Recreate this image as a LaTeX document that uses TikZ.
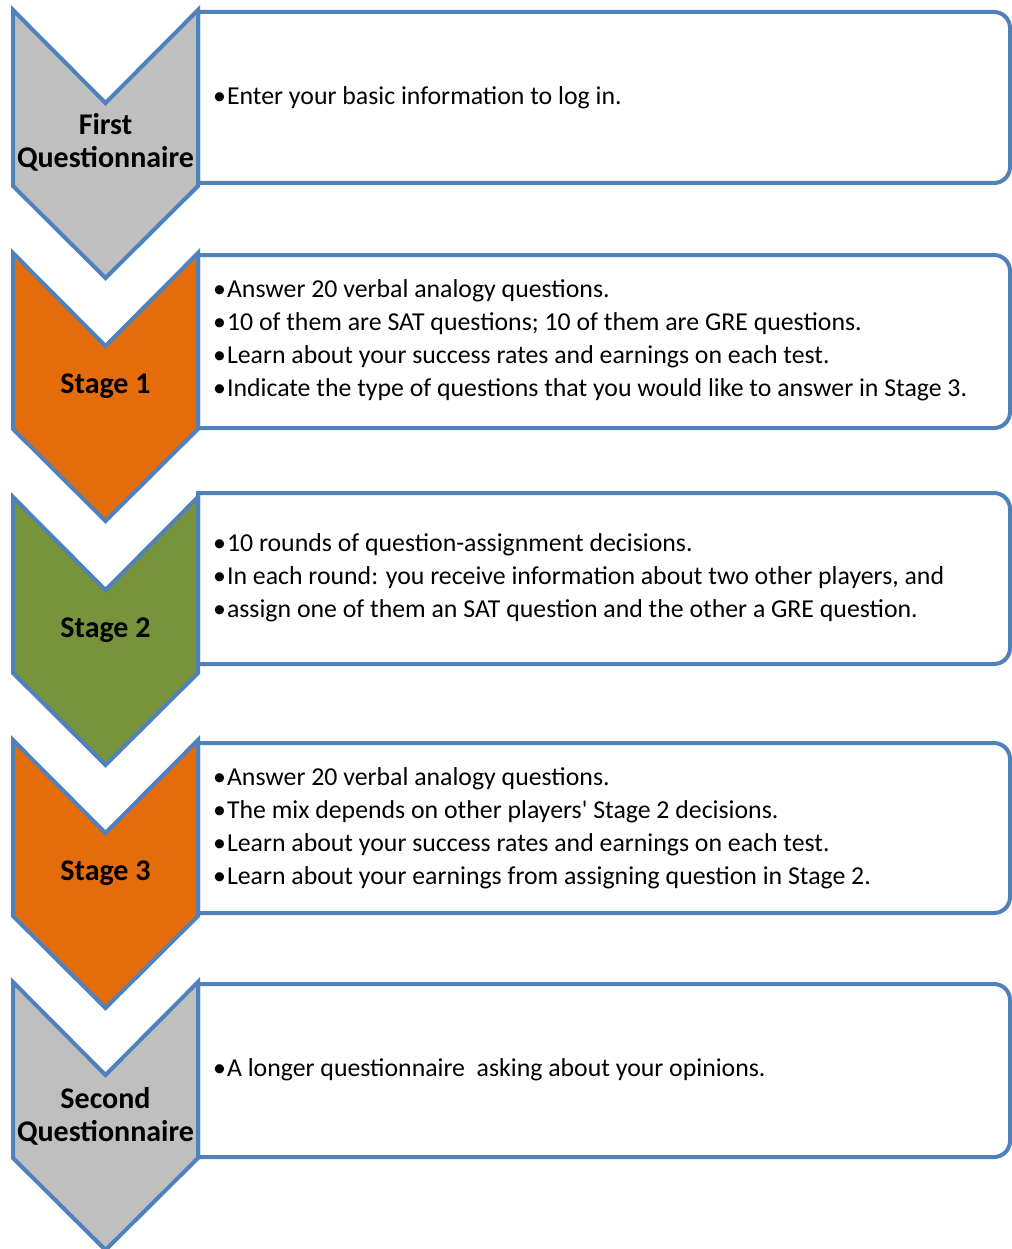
\documentclass[tikz,border=0pt]{standalone}
\usepackage{fontspec}
\setmainfont{Carlito}
\definecolor{edgeblue}{HTML}{4F81BD}
\definecolor{stagegray}{HTML}{BFBFBF}
\definecolor{stageorange}{HTML}{E46C0A}
\definecolor{stagegreen}{HTML}{77933C}
\newcommand\itembul{\textbullet\kern1pt}
% chevron with its top corners at height #1
\newcommand\chevronpath[1]{(13,#1) -- (105.5,#1+93) -- (198,#1) -- (198,#1+176) -- (105.5,#1+268) -- (13,#1+176) -- cycle}
% box from height #1 to #2, rounded on the right
\newcommand\boxpath[2]{(198,#1) -- (994,#1) arc[start angle=-90,end angle=0,radius=16] -- (1010,#2-16) arc[start angle=0,end angle=90,radius=16] -- (198,#2) -- cycle}
\begin{document}
\begin{tikzpicture}[x=1pt,y=-1pt,
  outline/.style={draw=edgeblue,line width=4pt,line join=miter},
  stagelabel/.style={font=\fontsize{30}{33}\selectfont\bfseries,align=center,inner sep=0pt},
  infotext/.style={font=\fontsize{25.8}{33}\selectfont,align=left,anchor=west,inner sep=0pt}]
\useasboundingbox[fill=white] (0,0) rectangle (1011,1249);

% First questionnaire
\draw[outline,fill=white] \boxpath{12}{183};
\draw[outline,fill=stagegray] \chevronpath{10};
\node[stagelabel] (l1) at (105.5,142) {First\\Questionnaire};
\node[infotext] (t1) at (213,97.5) {\itembul Enter your basic information to log in.};

% Stage 1
\draw[outline,fill=white] \boxpath{255}{428};
\draw[outline,fill=stageorange] \chevronpath{253};
\node[stagelabel] (l2) at (105.5,386) {Stage 1};
\node[infotext] (t2) at (213,340) {\itembul Answer 20 verbal analogy questions.\\
\itembul 10 of them are SAT questions; 10 of them are GRE questions.\\
\itembul Learn about your success rates and earnings on each test.\\
\itembul Indicate the type of questions that you would like to answer in Stage 3.};

% Stage 2
\draw[outline,fill=white] \boxpath{493}{664};
\draw[outline,fill=stagegreen] \chevronpath{497};
\node[stagelabel] (l3) at (105.5,630) {Stage 2};
\node[infotext] (t3) at (213,578) {\itembul 10 rounds of question-assignment decisions.\\
\itembul In each round: you receive information about two other players, and\\
\itembul assign one of them an SAT question and the other a GRE question.};

% Stage 3
\draw[outline,fill=white] \boxpath{743}{913};
\draw[outline,fill=stageorange] \chevronpath{740};
\node[stagelabel] (l4) at (105.5,873) {Stage 3};
\node[infotext] (t4) at (213,828) {\itembul Answer 20 verbal analogy questions.\\
\itembul The mix depends on other players\textquotesingle\ Stage 2 decisions.\\
\itembul Learn about your success rates and earnings on each test.\\
\itembul Learn about your earnings from assigning question in Stage 2.};

% Second questionnaire
\draw[outline,fill=white] \boxpath{984}{1157};
\draw[outline,fill=stagegray] \chevronpath{982};
\node[stagelabel] (l5) at (105.5,1116) {Second\\Questionnaire};
\node[infotext] (t5) at (213,1070) {\itembul A longer questionnaire\ \ asking about your opinions.};
\end{tikzpicture}
\end{document}
